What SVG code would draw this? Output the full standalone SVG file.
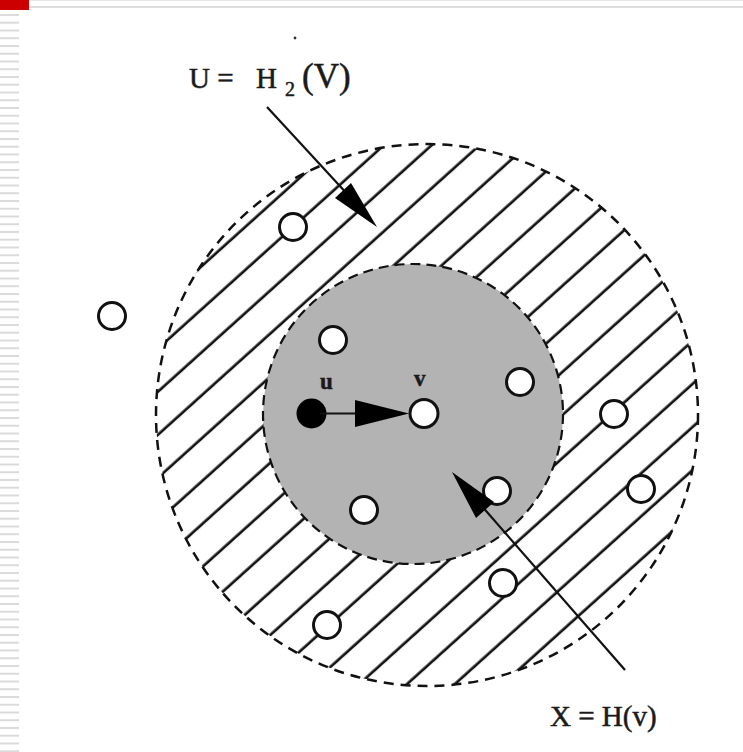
<svg xmlns="http://www.w3.org/2000/svg" width="743" height="752" viewBox="0 0 743 752">
<defs>
<style>
.lbl{font-family:"Liberation Serif","Times New Roman",serif;fill:#1a1a1a;stroke:#1a1a1a;stroke-width:0.5}
.pt{fill:#fff;stroke:#111;stroke-width:3}
.ln{stroke:#111;stroke-width:2.2;fill:none}
.head{fill:#000}
</style>
<pattern id="margin" x="0" y="14" width="20" height="7.75" patternUnits="userSpaceOnUse">
<rect x="0" y="0" width="19" height="2" fill="#dadada"/>
</pattern>
<pattern id="hatch" width="4" height="32" patternUnits="userSpaceOnUse" patternTransform="rotate(-42)">
<rect x="0" y="11.4" width="4" height="2.7" fill="#111"/>
</pattern>
</defs>
<rect width="743" height="752" fill="#fff"/>
<g id="frame">
<rect x="0" y="0" width="743" height="1" fill="#e6e6e6"/>
<rect x="20" y="6" width="723" height="2" fill="#dcdcdc"/>
<rect x="0" y="0" width="29" height="10" fill="#cc0000"/>
<rect x="0" y="14" width="19" height="738" fill="url(#margin)"/>
</g>
<g id="outer-region">
<circle cx="427" cy="415" r="271" fill="url(#hatch)"/>
<circle cx="427" cy="415" r="271" fill="none" stroke="#111" stroke-width="2.5" stroke-dasharray="10 7"/>
</g>
<g id="inner-region">
<circle cx="413" cy="414" r="150" fill="#b3b3b3" stroke="#111" stroke-width="2.2" stroke-dasharray="10 6"/>
</g>
<g id="points">
<circle class="pt" cx="293" cy="227" r="13.5"/>
<circle class="pt" cx="112" cy="316" r="13.5"/>
<circle class="pt" cx="333" cy="340" r="13.5"/>
<circle class="pt" cx="520" cy="382" r="13.5"/>
<circle class="pt" cx="614" cy="414" r="13.5"/>
<circle class="pt" cx="641" cy="489" r="13.5"/>
<circle class="pt" cx="497" cy="491" r="13.5"/>
<circle class="pt" cx="364" cy="510" r="13.5"/>
<circle class="pt" cx="503" cy="583" r="13.5"/>
<circle class="pt" cx="327" cy="625" r="13.5"/>
</g>
<g id="node-u">
<circle cx="311.5" cy="413.5" r="15" fill="#000"/>
<text class="lbl" x="320" y="389" font-size="23" font-weight="bold">u</text>
</g>
<g id="node-v">
<circle class="pt" cx="424" cy="413.5" r="14"/>
<text class="lbl" x="414" y="386" font-size="23" font-weight="bold">v</text>
</g>
<g id="connectors">
<line class="ln" x1="320" y1="413.5" x2="360" y2="413.5"/>
<polygon class="head" points="355,400 355,427 409,413.5"/>
<line class="ln" x1="267" y1="107" x2="350" y2="197"/>
<polygon class="head" points="335,198 351,183 377,227"/>
<line class="ln" x1="625" y1="670" x2="480" y2="504"/>
<polygon class="head" points="494,502 476,518 452,472"/>
</g>
<g id="label-U">
<text class="lbl" x="189" y="88" font-size="29">U =</text>
<text class="lbl" x="256" y="88" font-size="29">H</text>
<text class="lbl" x="285" y="96" font-size="20">2</text>
<text class="lbl" x="302" y="88" font-size="35">(V)</text>
<circle cx="295" cy="38" r="1.4" fill="#333"/>
</g>
<g id="label-X">
<text class="lbl" x="550" y="726" font-size="29">X = H(v)</text>
</g>
</svg>
